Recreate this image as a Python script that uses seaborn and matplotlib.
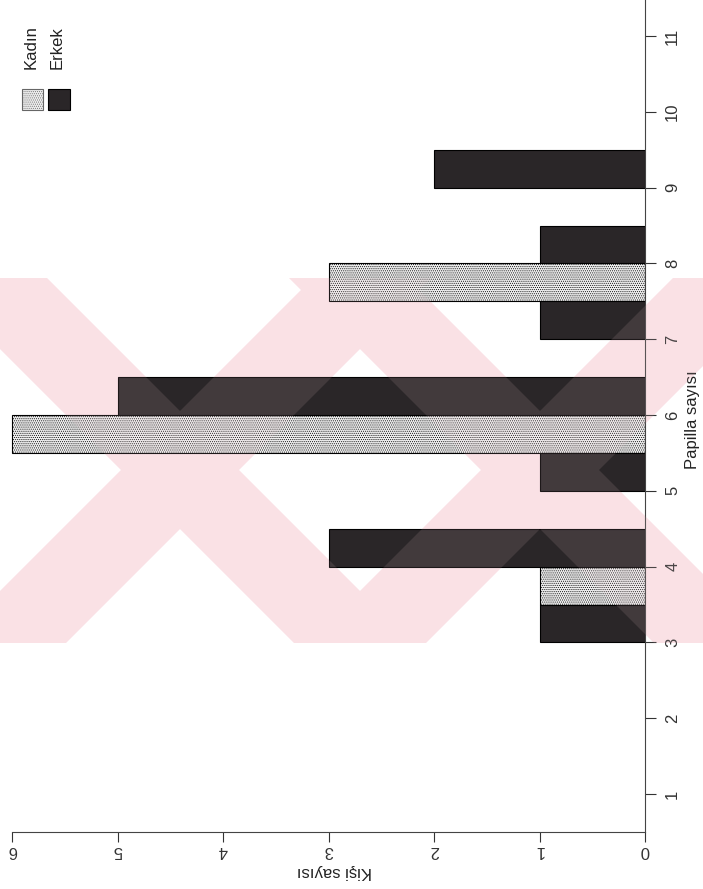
import matplotlib
matplotlib.use("Agg")
import matplotlib.pyplot as plt
from matplotlib.path import Path
from matplotlib.patches import PathPatch, Rectangle
import seaborn as sns
import pandas as pd

# Papilla counts per person, split by sex
papilla_levels = [str(i) for i in range(1, 12)]
kadin_papilla = ["4", "6", "8"]
kadin_counts = [1, 6, 3]
erkek_papilla = ["3", "4", "5", "6", "7", "8", "9"]
erkek_counts = [1, 3, 1, 5, 1, 1, 2]
groups = ["Kadın", "Erkek"]
count_ticks = [0, 1, 2, 3, 4, 5, 6]

df = pd.concat([
    pd.DataFrame({"papilla": kadin_papilla, "count": kadin_counts, "sex": groups[0]}),
    pd.DataFrame({"papilla": erkek_papilla, "count": erkek_counts, "sex": groups[1]}),
], ignore_index=True)

sns.set_theme(style="white")
plt.rcParams["font.family"] = ["Liberation Sans", "DejaVu Sans"]
plt.rcParams["hatch.linewidth"] = 0.45

LIGHT = "#eeeeee"
DARK = "#2a2628"
W, H = 703, 889


def fx(px):
    return px / W


def fy(py):
    return 1 - py / H


fig = plt.figure(figsize=(W / 100, H / 100), dpi=100)
fig.patch.set_facecolor("white")
ax = fig.add_axes([0, fy(832), fx(645), 832 / H])
ax.patch.set_facecolor("none")

sns.barplot(data=df, x="count", y="papilla", hue="sex", order=papilla_levels,
            hue_order=groups, palette={groups[0]: LIGHT, groups[1]: DARK},
            orient="h", width=1.0, errorbar=None, saturation=1,
            edgecolor="black", linewidth=0.8, legend=False, ax=ax)

for bar in ax.containers[0]:
    bar.set_hatch("........")

ax.set_xlim(6.114, 0)
ax.set_ylim(-0.5, 10.475)

for side in ("top", "left"):
    ax.spines[side].set_visible(False)
for side in ("right", "bottom"):
    ax.spines[side].set_visible(True)
    ax.spines[side].set_color("#444444")
    ax.spines[side].set_linewidth(0.8)
ax.spines["bottom"].set_bounds(0, 6)

ax.set_xticks(count_ticks)
ax.set_xticklabels([str(v) for v in count_ticks])
ax.yaxis.tick_right()
ax.yaxis.set_label_position("right")
ax.tick_params(axis="x", direction="out", length=7, width=0.8, pad=1,
               labelsize=12, labelrotation=180, bottom=True, colors="#333333")
ax.tick_params(axis="y", direction="out", length=8, width=0.8, pad=6.5,
               labelsize=12, labelrotation=90, right=True, left=False,
               colors="#333333")
for t in ax.get_yticklabels():
    t.set_verticalalignment("center")

ax.set_xlabel("Kişi sayısı", fontsize=12, rotation=180, color="#222222")
ax.xaxis.set_label_coords(334 / 645, -39 / 832)
ax.xaxis.label.set_verticalalignment("center")
ax.xaxis.label.set_horizontalalignment("center")

ax.set_ylabel("Papilla sayısı", fontsize=12, rotation=90, color="#222222")
ax.yaxis.set_label_coords(693 / 645, (832 - 420) / 832)
ax.yaxis.label.set_verticalalignment("center")
ax.yaxis.label.set_horizontalalignment("center")

# Legend keys drawn upright beside the rotated labels
fig.add_artist(Rectangle((fx(22), fy(110)), 21 / W, 21 / H, transform=fig.transFigure,
                         facecolor=LIGHT, edgecolor="#666666", linewidth=0.8,
                         hatch="........"))
fig.add_artist(Rectangle((fx(48), fy(110)), 22 / W, 21 / H, transform=fig.transFigure,
                         facecolor=DARK, edgecolor="black", linewidth=0.8))
fig.text(fx(31), fy(69), groups[0], rotation=90, ha="center", va="bottom",
         fontsize=12, color="#222222")
fig.text(fx(57.5), fy(69), groups[1], rotation=90, ha="center", va="bottom",
         fontsize=12, color="#222222")

# Faint pink diagonal crosses across the middle of the page
y0, y1 = 278, 643
half = 59
verts, codes = [], []
for cx, cy in [(180, 470), (540, 470)]:
    for sgn in (1, -1):
        xt = cx + sgn * (y0 - cy)
        xb = cx + sgn * (y1 - cy)
        poly = [(xt - half, y0), (xt + half, y0), (xb + half, y1), (xb - half, y1)]
        if sgn < 0:
            poly = [poly[1], poly[0], poly[3], poly[2]][::-1]
        pts = [(fx(px), fy(py)) for px, py in poly]
        verts += pts + [pts[0]]
        codes += [Path.MOVETO, Path.LINETO, Path.LINETO, Path.LINETO, Path.CLOSEPOLY]
cross = Path(verts, codes)
# solid tint behind the chart, plus a light veil over the bars
fig.add_artist(PathPatch(cross, transform=fig.transFigure, facecolor="#fce4e8",
                         edgecolor="none", zorder=-1))
fig.add_artist(PathPatch(cross, transform=fig.transFigure,
                         facecolor=(0.95, 0.8, 0.83), edgecolor="none",
                         alpha=0.12, zorder=5))

fig.savefig("out.png", dpi=100)
